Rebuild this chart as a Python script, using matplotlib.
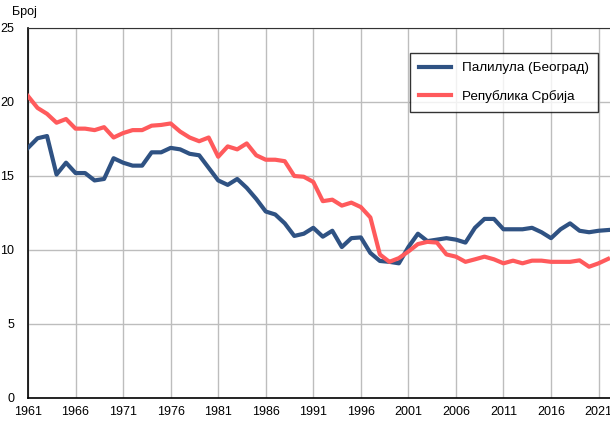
import matplotlib.pyplot as plt

plt.rcParams['font.family'] = ['Liberation Sans', 'DejaVu Sans']

years = list(range(1961, 2023))

palilula = [16.9, 17.55, 17.7, 15.1, 15.9, 15.2, 15.2, 14.7, 14.8, 16.2,
            15.9, 15.7, 15.7, 16.6, 16.6, 16.9, 16.8, 16.5, 16.4, 15.55,
            14.7, 14.4, 14.8, 14.2, 13.45, 12.6, 12.4, 11.8, 10.95, 11.1,
            11.5, 10.9, 11.3, 10.2, 10.8, 10.85, 9.8, 9.26, 9.2, 9.1,
            10.2, 11.1, 10.6, 10.7, 10.8, 10.7, 10.5, 11.5, 12.1, 12.1,
            11.4, 11.4, 11.4, 11.5, 11.2, 10.8, 11.4, 11.8, 11.3, 11.2,
            11.3, 11.35]

srbija = [20.4, 19.6, 19.2, 18.6, 18.85, 18.2, 18.2, 18.1, 18.3, 17.6,
          17.9, 18.1, 18.1, 18.4, 18.45, 18.55, 18.0, 17.6, 17.35, 17.6,
          16.3, 17.0, 16.8, 17.2, 16.4, 16.1, 16.1, 16.0, 15.0, 14.95,
          14.6, 13.3, 13.4, 13.0, 13.2, 12.9, 12.2, 9.7, 9.2, 9.45,
          9.9, 10.4, 10.55, 10.5, 9.7, 9.55, 9.2, 9.37, 9.55, 9.37,
          9.1, 9.28, 9.1, 9.28, 9.28, 9.2, 9.2, 9.2, 9.3, 8.87,
          9.1, 9.4]

x_ticks = list(range(1961, 2022, 5))
y_ticks = [0, 5, 10, 15, 20, 25]

fig = plt.figure(figsize=(6.1, 4.21), dpi=100)
ax = fig.add_axes([28 / 610, 23 / 421, 582 / 610, 370 / 421])

ax.plot(years, palilula, color='#2f5283', linewidth=3, label='Палилула (Београд)',
        solid_joinstyle='round', zorder=3)
ax.plot(years, srbija, color='#ff5a5c', linewidth=3, label='Република Србија',
        solid_joinstyle='round', zorder=3)

ax.set_xlim(1961, 2022.2)
ax.set_ylim(0, 25)
ax.set_xticks(x_ticks)
ax.set_yticks(y_ticks)
ax.tick_params(length=0, labelsize=9, colors='black')
ax.tick_params(axis='y', pad=10)
ax.tick_params(axis='x', pad=6)
ax.grid(True, color='#bdbdbd', linewidth=1)

for side in ['left', 'bottom']:
    ax.spines[side].set_color('black')
    ax.spines[side].set_linewidth(1.2)
ax.spines['top'].set_color('#333333')
ax.spines['right'].set_visible(False)

leg = ax.legend(loc='upper right', bbox_to_anchor=(0.979, 0.932), borderaxespad=0,
                fontsize=9.7, frameon=True, fancybox=False, edgecolor='black',
                borderpad=0.65, labelspacing=1.15, handlelength=2.4, handletextpad=0.8)
leg.get_frame().set_linewidth(1.0)

fig.text(12 / 610, 1 - 12 / 421, 'Број', fontsize=9, va='center', ha='left')

fig.savefig('out.png', dpi=100)
